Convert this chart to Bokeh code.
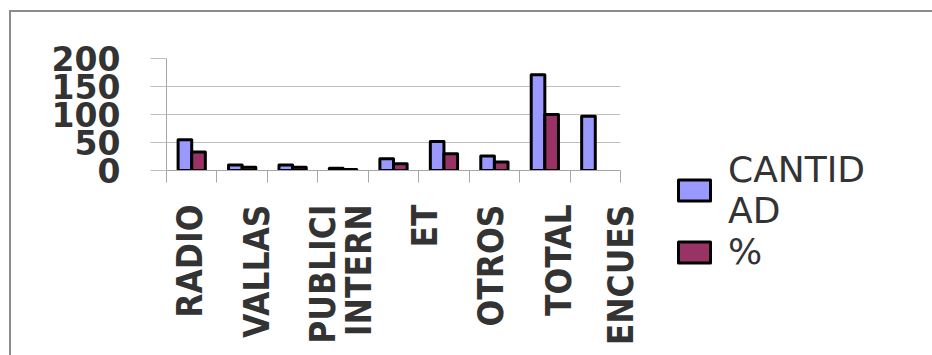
from math import pi

from bokeh.embed import file_html
from bokeh.models import (FixedTicker, InlineStyleSheet, Legend, LegendItem,
                          Range1d)
from bokeh.plotting import figure
from bokeh.resources import INLINE

# values per group: absolute count and share of the total (%)
cantidad = [55, 10, 10, 4, 21, 52, 26, 171, 97]
porcentaje = [33, 6, 6, 2, 12, 30, 15, 100, float("nan")]

# value axis ticks
y_ticks = [0, 50, 100, 150, 200]

# category captions as printed under the axis
x_labels = ["RADIO", "VALLAS", "PUBLICI", "INTERN", "ET", "OTROS", "TOTAL", "ENCUES"]

# caption placement along the category axis, in group units
label_x = [0.46, 1.80, 3.11, 3.81, 5.12, 6.44, 7.79, 9.0]

BLUE = "#9999FF"
PLUM = "#993366"
n_groups = len(cantidad)
centers = [i + 0.5 for i in range(n_groups)]
bar_w = 0.27

# 166 + 454 + 312 = 932 wide, 58 + 112 + 185 = 355 high
p = figure(frame_width=454, frame_height=112, output_backend="svg",
           toolbar_location=None,
           x_range=Range1d(0, n_groups), y_range=Range1d(0, 200),
           min_border_left=166, min_border_right=312,
           min_border_top=58, min_border_bottom=185)
p.outline_line_color = None
p.background_fill_color = "white"
p.border_fill_color = "white"

r_cant = p.vbar(x=[c - bar_w / 2 for c in centers], top=cantidad, width=bar_w,
                fill_color=BLUE, line_color="black", line_width=3,
                line_join="round")
r_pct = p.vbar(x=[c + bar_w / 2 for c in centers], top=porcentaje, width=bar_w,
               fill_color=PLUM, line_color="black", line_width=3,
               line_join="round")

# value axis
p.yaxis.ticker = FixedTicker(ticks=y_ticks)
p.yaxis.axis_line_color = "#a6a6a6"
p.yaxis.major_tick_line_color = "#bfbfbf"
p.yaxis.major_tick_out = 16
p.yaxis.major_tick_in = 0
p.yaxis.minor_tick_line_color = None
p.yaxis.major_label_standoff = 30
p.yaxis.major_label_text_font = "DejaVu Sans"
p.yaxis.major_label_text_font_style = "bold"
p.yaxis.major_label_text_font_size = "33px"
p.yaxis.major_label_text_color = "#333333"
p.ygrid.ticker = FixedTicker(ticks=y_ticks)
p.ygrid.grid_line_color = "#bfbfbf"
p.ygrid.grid_line_width = 1
p.xgrid.grid_line_color = None

# category axis: boundary marks as minor ticks, captions on major ticks
p.xaxis.ticker = FixedTicker(ticks=label_x, minor_ticks=list(range(n_groups + 1)))
p.xaxis.major_label_overrides = {x: t for x, t in zip(label_x, x_labels)}
p.xaxis.axis_line_color = "#a6a6a6"
p.xaxis.major_tick_line_color = None
p.xaxis.major_tick_out = 0
p.xaxis.major_tick_in = 0
p.xaxis.minor_tick_line_color = "#a6a6a6"
p.xaxis.minor_tick_out = 12
p.xaxis.minor_tick_in = 0
p.xaxis.major_label_orientation = pi / 2
p.xaxis.major_label_standoff = 22
p.xaxis.major_label_text_font = "DejaVu Sans Condensed"
p.xaxis.major_label_text_font_style = "bold"
p.xaxis.major_label_text_font_size = "35px"
p.xaxis.major_label_text_color = "#333333"

legend = Legend(items=[LegendItem(label="CANTID\nAD", renderers=[r_cant]),
                       LegendItem(label="%", renderers=[r_pct])],
                location=(54, -102), padding=0, margin=0,
                glyph_width=40, glyph_height=26, label_height=26,
                label_standoff=14, spacing=-12,
                border_line_color=None, background_fill_alpha=0,
                label_text_font="DejaVu Sans", label_text_font_size="36px",
                label_text_color="#333333")
p.add_layout(legend, "right")

# outer chart-area frame (left and top edges)
p.stylesheets = [InlineStyleSheet(css=(
    ":host { position: relative; }"
    ":host::after { content: ''; position: absolute; left: 9px; top: 10px;"
    " width: 923px; height: 345px; box-sizing: border-box;"
    " border-left: 2px solid #8c8c8c; border-top: 2px solid #8c8c8c;"
    " pointer-events: none; }"))]

open("out.html", "w").write(file_html(p, INLINE))
